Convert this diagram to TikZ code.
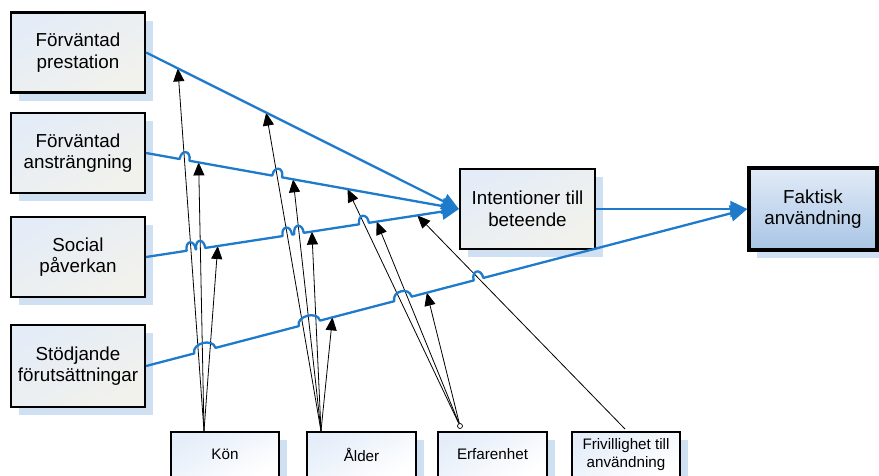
\documentclass[tikz,border=0pt]{standalone}
\usepackage{fontspec}
\setmainfont{Liberation Sans}
\usetikzlibrary{calc,arrows.meta,shadows}

\definecolor{flowblue}{RGB}{30,122,202}
\definecolor{shadowblue}{RGB}{208,224,243}
\definecolor{boxtop}{RGB}{228,236,247}
\definecolor{boxbottom}{RGB}{242,242,236}
\definecolor{outtop}{RGB}{226,235,247}
\definecolor{outbottom}{RGB}{168,197,229}
\definecolor{modtop}{RGB}{228,237,249}

\tikzset{
  factorbox/.style={draw=black, line width=2.2pt, inner sep=0pt, align=center,
    top color=boxtop, bottom color=boxbottom, shading angle=30,
    minimum width=134pt, minimum height=80pt,
    font=\fontsize{18.8}{21.5}\selectfont,
    drop shadow={shadow xshift=8pt, shadow yshift=-8pt, fill=shadowblue, opacity=1}},
  outbox/.style={factorbox, line width=3.4pt, top color=outtop, bottom color=outbottom,
    minimum width=128pt, minimum height=82pt},
  modbox/.style={draw=black, line width=2pt, inner sep=0pt, align=center,
    top color=modtop, bottom color=white, shading angle=30,
    minimum width=108pt, minimum height=46pt,
    font=\fontsize{15.2}{17.5}\selectfont,
    drop shadow={shadow xshift=8pt, shadow yshift=-8pt, fill=shadowblue, opacity=1}},
  flow/.style={draw=flowblue, line width=2.3pt, line join=round,
    -{Triangle[length=17pt,width=16pt]}},
  modarrow/.style={draw=black, line width=0.8pt, -{Triangle[length=13pt,width=11pt]}},
}

% blue connector with line hops: #1 from, #2 to, #3 list of position/half-width
\newcommand\hoppath[3]{%
  \draw[flow] let \p1=($(#2)-(#1)$), \n1={atan2(\y1,\x1)} in (#1)
    foreach \hp/\hw in {#3} {
      -- ($(#1)!\hp!(#2)+(\n1+180:\hw pt)$)
      .. controls +(\n1+90:10.5pt) and +(\n1+90:10.5pt) ..
      ($(#1)!\hp!(#2)+(\n1:\hw pt)$)
    } -- (#2);
}

\begin{document}
\begin{tikzpicture}[x=1pt,y=-1pt]
\useasboundingbox (0,0) rectangle (879,475);

% determinants
\node[factorbox] (P) at (78,52.5) {Förväntad\\prestation};
\node[factorbox] (A) at (78,153) {Förväntad\\ansträngning};
\node[factorbox] (S) at (78,257) {Social\\påverkan};
\node[factorbox, minimum height=82pt] (D) at (78,366) {Stödjande\\förutsättningar};

% intention and use
\node[factorbox, minimum width=135pt] (I) at (527.5,209) {Intentioner till\\beteende};
\node[outbox] (F) at (813,209) {Faktisk\\användning};

% moderators
\node[modbox] (K) at (225,454.5) {Kön};
\node[modbox, minimum width=109pt] (L) at (361.5,454.5) {Ålder};
\node[modbox, minimum width=109pt] (E) at (492.5,454.5) {Erfarenhet};
\node[modbox] (V) at (626,454.5) {Frivillighet till\\användning};

% moderator origins
\coordinate (ko) at (204,431);
\coordinate (lo) at (321,431);
\node[draw=black, line width=0.7pt, fill=white, circle, inner sep=0pt, minimum size=5pt] (eo) at (460,426) {};
\coordinate (vo) at (625,429);

% points of action on the flows
\coordinate (kp) at ($(P.east)!0.1016!(I.west)$);
\coordinate (lp) at ($(P.east)!0.384!(I.west)$);
\coordinate (ka) at ($(A.east)!0.168!(I.west)$);
\coordinate (la) at ($(A.east)!0.47!(I.west)$);
\coordinate (ea) at ($(A.east)!0.644!(I.west)$);
\coordinate (ks) at ($(S.east)!0.229!(I.west)$);
\coordinate (ls) at ($(S.east)!0.53!(I.west)$);
\coordinate (es) at ($(S.east)!0.737!(I.west)$);
\coordinate (vs) at ($(S.east)!0.867!(I.west)$);
\coordinate (ld) at ($(D.east)!0.31!(F.west)$);
\coordinate (ed) at ($(D.east)!0.467!(F.west)$);

% moderating effects
\draw[modarrow] (ko) -- (kp);
\draw[modarrow] (ko) -- (ka);
\draw[modarrow] (ko) -- (ks);
\draw[modarrow] (lo) -- (lp);
\draw[modarrow] (lo) -- (la);
\draw[modarrow] (lo) -- (ls);
\draw[modarrow] (lo) -- (ld);
\draw[modarrow] (eo) -- (ea);
\draw[modarrow] (eo) -- (es);
\draw[modarrow] (eo) -- (ed);
\draw[modarrow] (vo) -- (vs);

% main effects
\draw[flow] (P.east) -- (I.west);
\hoppath{A.east}{I.west}{0.1229/5, 0.419/5}
\hoppath{S.east}{I.west}{0.1441/4.6, 0.1746/4.6, 0.4514/4.8, 0.4889/4.8, 0.6965/5}
\hoppath{D.east}{F.west}{0.0977/11, 0.2715/11, 0.4272/9, 0.553/5}
\draw[flow] (I.east) -- (F.west);
\end{tikzpicture}
\end{document}
